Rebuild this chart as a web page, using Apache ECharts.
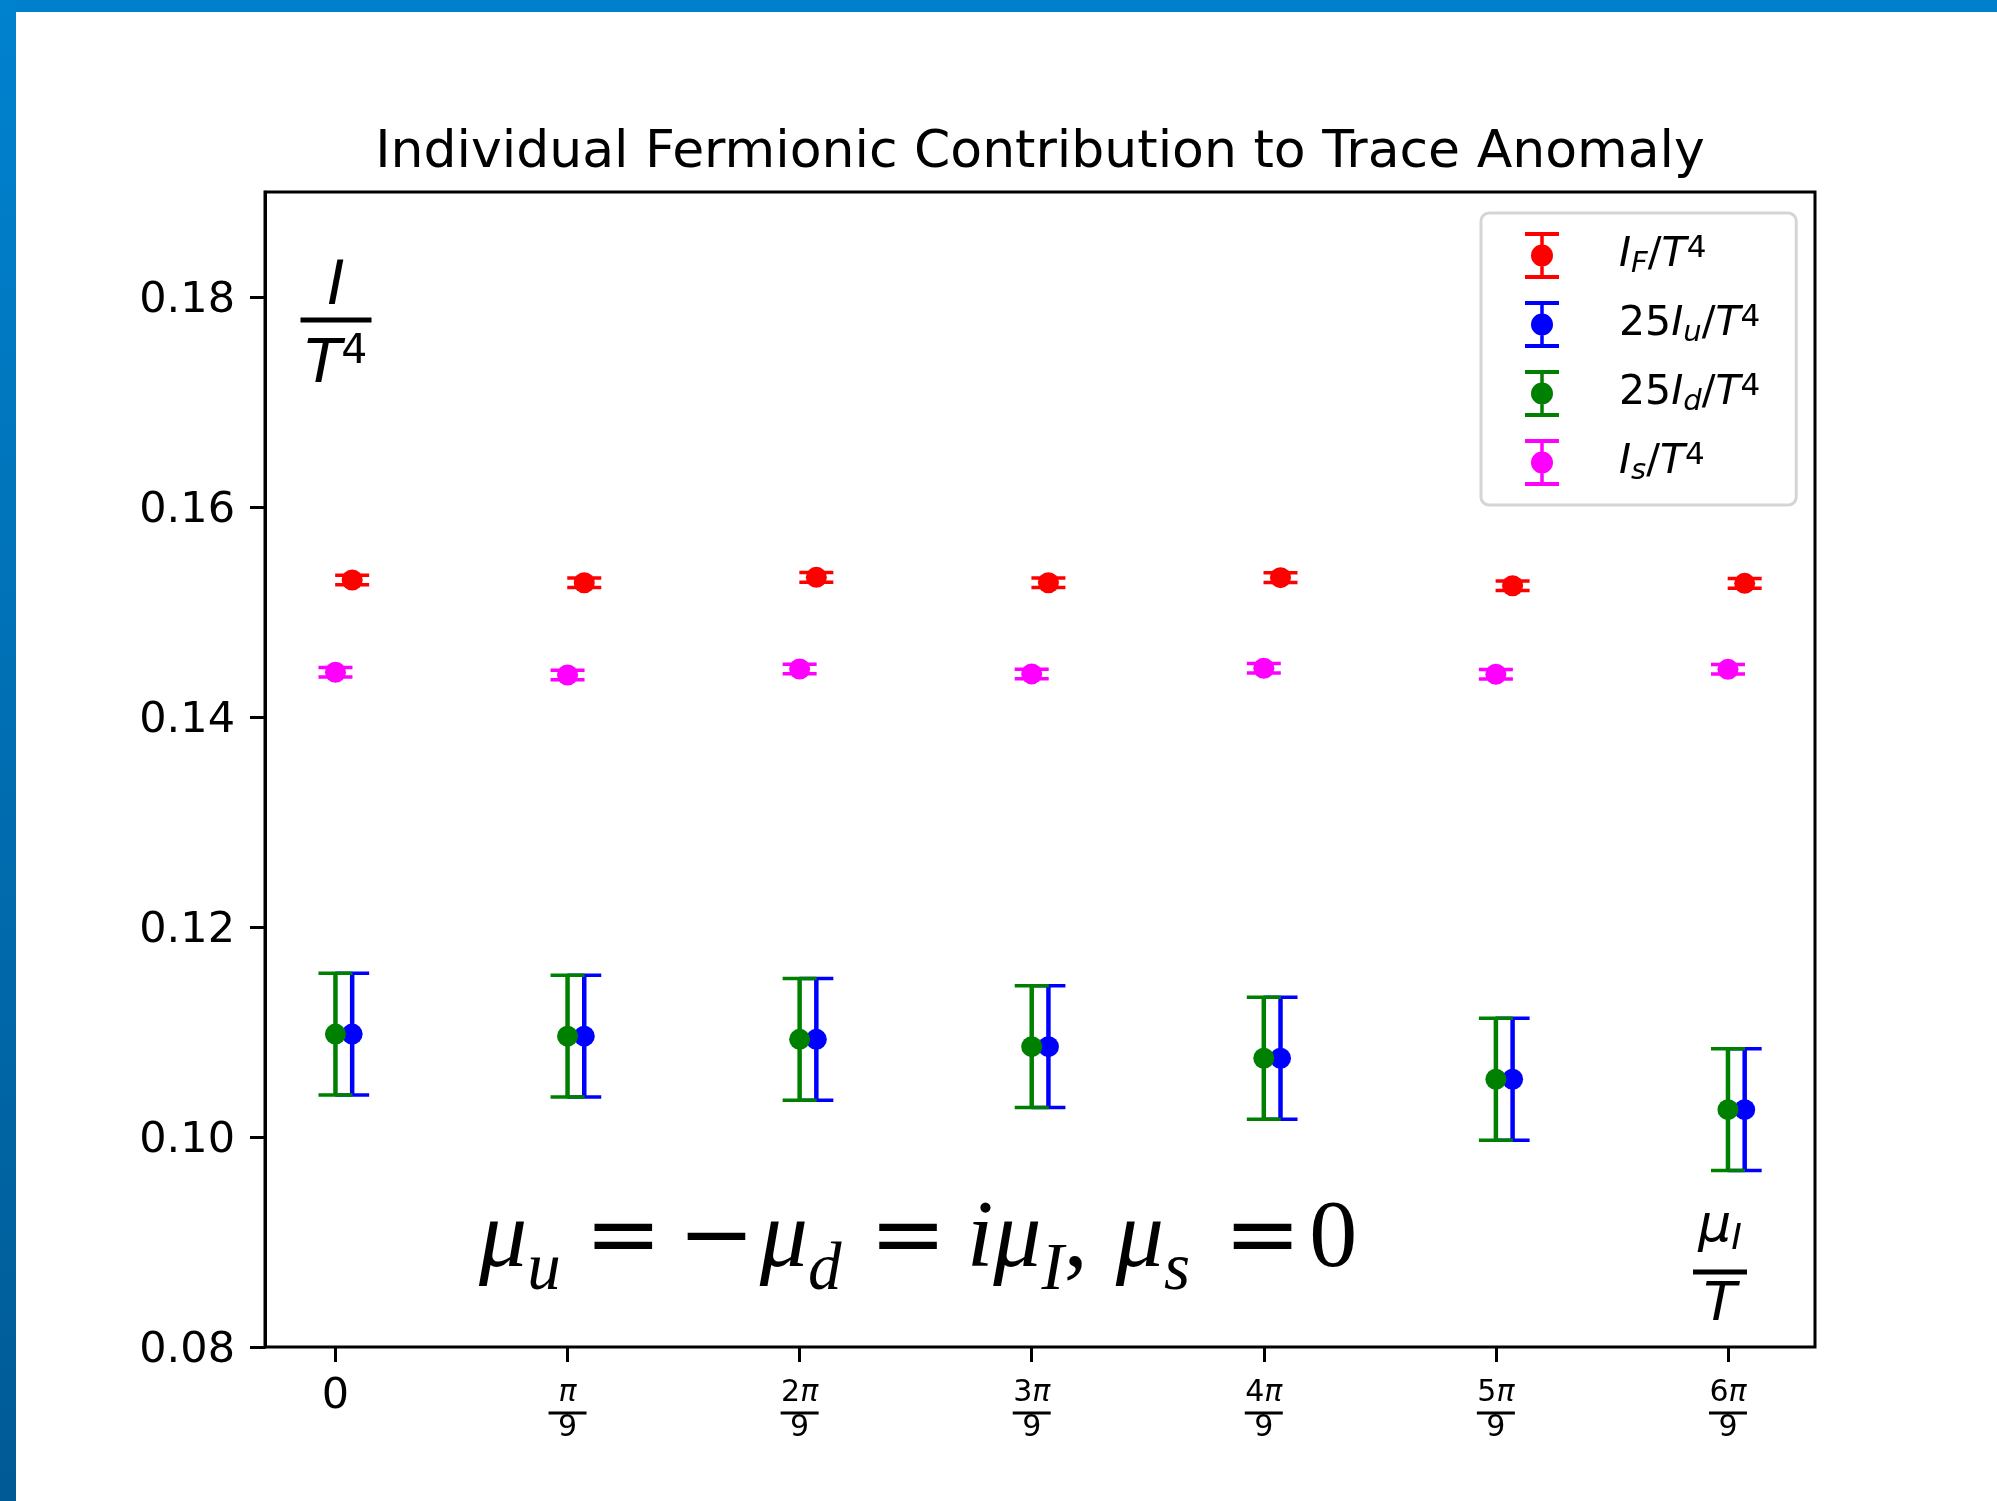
<!DOCTYPE html>
<html><head><meta charset="utf-8">
<style>html,body{margin:0;padding:0;background:#fff;}#chart{width:1997px;height:1501px;}</style>
<script src="https://cdn.jsdelivr.net/npm/echarts@6/dist/echarts.min.js"></script>
</head><body><div id="chart"></div>
<script>
// ---- data ----
const xIndex = [0, 1, 2, 3, 4, 5, 6];            // mu_I/T in units of pi/9
const xTickLabels = ['0', 'π/9', '2π/9', '3π/9', '4π/9', '5π/9', '6π/9'];
const xOffset = 0.072;                            // horizontal shift of IF and Iu points
const yTicks = [0.08, 0.10, 0.12, 0.14, 0.16, 0.18];
const IF = [0.15305, 0.15279, 0.15330, 0.15279, 0.15327, 0.15250, 0.15273];
const IF_err = [0.00046, 0.00046, 0.00046, 0.00046, 0.00046, 0.00046, 0.00046];
const Iu = [0.1098, 0.1096, 0.1093, 0.1086, 0.1075, 0.1055, 0.1026];
const Iu_err = [0.0058, 0.0058, 0.0058, 0.0058, 0.0058, 0.0058, 0.0058];
const Id = [0.1098, 0.1096, 0.1093, 0.1086, 0.1075, 0.1055, 0.1026];
const Id_err = [0.0058, 0.0058, 0.0058, 0.0058, 0.0058, 0.0058, 0.0058];
const Is = [0.14426, 0.14400, 0.14457, 0.14410, 0.14464, 0.14407, 0.14454];
const Is_err = [0.00045, 0.00045, 0.00045, 0.00045, 0.00045, 0.00045, 0.00045];
const seriesNames = ['I_F/T^4', '25I_u/T^4', '25I_d/T^4', 'I_s/T^4'];
const seriesColors = ['#ff0000', '#0000ff', '#008000', '#ff00ff'];

const F = 'DejaVu Sans';
const SERIF = 'Liberation Serif';
const SERIF2 = 'DejaVu Serif';

// x range of the plot (in units of pi/9)
const X_MIN = -0.3036, X_MAX = 6.375;
const Y_MIN = 0.08, Y_MAX = 0.19;
// plot box
const G_LEFT = 265, G_TOP = 192, G_W = 1550, G_H = 1155;
const TICK_LEN = 15;
// tick/label strip directly under the plot: spans x = 0 .. 6 of the value axis
const pxPerUnit = G_W / (X_MAX - X_MIN);
const G2_LEFT = G_LEFT + (0 - X_MIN) * pxPerUnit;
const G2_W = (xIndex[xIndex.length - 1] - xIndex[0]) * pxPerUnit;

function renderErr(params, api) {
  const x = api.value(0), lo = api.value(2), hi = api.value(3);
  const pl = api.coord([x, lo]), ph = api.coord([x, hi]);
  const c = api.visual('color');
  const hw = 17;
  return {type: 'group', children: [
    {type: 'line', shape: {x1: pl[0], y1: pl[1], x2: ph[0], y2: ph[1]}, style: {stroke: c, lineWidth: 4.5}},
    {type: 'line', shape: {x1: pl[0] - hw, y1: pl[1], x2: pl[0] + hw, y2: pl[1]}, style: {stroke: c, lineWidth: 3.5}},
    {type: 'line', shape: {x1: ph[0] - hw, y1: ph[1], x2: ph[0] + hw, y2: ph[1]}, style: {stroke: c, lineWidth: 3.5}}
  ]};
}

function makeSeries(name, color, ys, errs, dx) {
  const errData = xIndex.map((x, i) => [x + dx, ys[i], ys[i] - errs[i], ys[i] + errs[i]]);
  const ptData = xIndex.map((x, i) => [x + dx, ys[i]]);
  return [
    {type: 'custom', name: name, renderItem: renderErr, data: errData,
     encode: {x: 0, y: 1}, itemStyle: {color: color}, silent: true, clip: false},
    {type: 'scatter', name: name, data: ptData, symbol: 'circle', symbolSize: 21,
     itemStyle: {color: color, opacity: 1}, silent: true}
  ];
}

const series = [].concat(
  makeSeries(seriesNames[0], seriesColors[0], IF, IF_err, xOffset),
  makeSeries(seriesNames[1], seriesColors[1], Iu, Iu_err, xOffset),
  makeSeries(seriesNames[2], seriesColors[2], Id, Id_err, 0),
  makeSeries(seriesNames[3], seriesColors[3], Is, Is_err, 0)
);

const iconPath = 'path://M0 0H34V4H0Z M0 43H34V47H0Z M15.25 0H18.75V47H15.25Z M6 23.5A11 11 0 1 1 28 23.5A11 11 0 1 1 6 23.5Z';

const legendRich = {
  gap: {width: 55},
  n: {fontSize: 41, fontFamily: F, lineHeight: 44, color: '#000'},
  i: {fontSize: 41, fontFamily: F, fontStyle: 'italic', lineHeight: 44, color: '#000'},
  sb: {fontSize: 29, fontFamily: F, fontStyle: 'italic', lineHeight: 20, padding: [17, 0, 0, 0], color: '#000'},
  sp: {fontSize: 31, fontFamily: F, lineHeight: 20, padding: [0, 0, 14, 0], color: '#000'}
};
const legendText = {
  'I_F/T^4': '{gap|}{i|I}{sb|F}{n|/}{i|T}{sp|4}',
  '25I_u/T^4': '{gap|}{n|25}{i|I}{sb|u}{n|/}{i|T}{sp|4}',
  '25I_d/T^4': '{gap|}{n|25}{i|I}{sb|d}{n|/}{i|T}{sp|4}',
  'I_s/T^4': '{gap|}{i|I}{sb|s}{n|/}{i|T}{sp|4}'
};

// x tick label: the value as a stacked fraction of pi
function xLabel(value) {
  const lab = xTickLabels[Math.round(value)];
  if (lab === undefined) return '';
  if (lab === '0') return '{z|0}';
  const num = lab.split('/')[0];
  const digits = num.replace('π', '');
  return (digits ? '{nd|' + digits + '}' : '') + '{np|π}\n{bar|}\n{dd|9}';
}

const chart = echarts.init(document.getElementById('chart'), null, {renderer: 'canvas'});
chart.setOption({
  animation: false,
  backgroundColor: '#ffffff',
  textStyle: {fontFamily: F},
  grid: [
    {left: G_LEFT, top: G_TOP, width: G_W, height: G_H, show: true,
     borderColor: '#000', borderWidth: 3, backgroundColor: 'transparent'},
    {left: G2_LEFT, top: G_TOP + G_H - 1, width: G2_W, height: 1, show: false}
  ],
  xAxis: [
    {type: 'value', gridIndex: 0, min: X_MIN, max: X_MAX,
     axisLine: {show: false, onZero: false}, splitLine: {show: false},
     axisTick: {show: false}, axisLabel: {show: false}},
    {type: 'value', gridIndex: 1, min: xIndex[0], max: xIndex[xIndex.length - 1], interval: 1,
     position: 'bottom',
     axisLine: {show: false, onZero: false},
     splitLine: {show: false},
     axisTick: {show: true, length: TICK_LEN, lineStyle: {color: '#000', width: 3}},
     axisLabel: {
       margin: 34, color: '#000', formatter: xLabel, showMinLabel: true, showMaxLabel: true,
       rich: {
         z: {fontSize: 43, fontFamily: F, lineHeight: 32, color: '#000'},
         nd: {fontSize: 30, fontFamily: F, lineHeight: 24, color: '#000'},
         np: {fontSize: 30, fontFamily: F, fontStyle: 'italic', lineHeight: 24, color: '#000'},
         bar: {width: 38, height: 3, backgroundColor: '#000', lineHeight: 16},
         dd: {fontSize: 30, fontFamily: F, lineHeight: 14, color: '#000'}
       }
     }}
  ],
  yAxis: [
    {type: 'value', gridIndex: 0, min: Y_MIN, max: Y_MAX,
     axisLine: {show: true, onZero: false, lineStyle: {color: '#000', width: 3}},
     splitLine: {show: false},
     axisTick: {show: true, customValues: yTicks, length: TICK_LEN, lineStyle: {color: '#000', width: 3}},
     axisLabel: {customValues: yTicks, margin: 30, color: '#000',
                 formatter: v => '{v|' + v.toFixed(2) + '}',
                 rich: {v: {fontSize: 43, fontFamily: F, color: '#000', lineHeight: 44, padding: [8, 0, 0, 0]}}}},
    {type: 'value', gridIndex: 1, min: 0, max: 1, show: false}
  ],
  legend: {
    orient: 'vertical', left: 1481, top: 213,
    padding: [19, 36, 19, 44], itemGap: 22, itemWidth: 34, itemHeight: 47,
    backgroundColor: 'rgba(255,255,255,0.8)', borderColor: '#d5d5d5', borderWidth: 3, borderRadius: 8,
    itemStyle: {borderWidth: 0},
    selectedMode: false,
    data: seriesNames.map(n => ({name: n, icon: iconPath})),
    formatter: n => legendText[n],
    textStyle: {rich: legendRich, fontSize: 41, fontFamily: F, color: '#000'}
  },
  graphic: [
    {type: 'text', x: 1040, y: 153, z: 50, style: {
      text: 'Individual Fermionic Contribution to Trace Anomaly',
      fontSize: 52, fontFamily: F, fill: '#000', align: 'center', verticalAlign: 'middle'}},
    {type: 'text', x: 336, y: 243, z: 50, style: {
      text: '{ni|I}\n{br|}\n{dt|T}{ds|4}', align: 'center', verticalAlign: 'top', fill: '#000',
      rich: {
        ni: {fontSize: 60, fontFamily: F, fontStyle: 'italic', lineHeight: 72, padding: [18, 0, 0, 0], fill: '#000'},
        br: {width: 71, height: 5, backgroundColor: '#000', lineHeight: 10},
        dt: {fontSize: 60, fontFamily: F, fontStyle: 'italic', lineHeight: 70, padding: [12, 0, 0, 0], fill: '#000'},
        ds: {fontSize: 41, fontFamily: F, lineHeight: 20, padding: [0, 0, 16, 0], fill: '#000'}
      }}},
    {type: 'text', x: 1720, y: 1185, z: 50, style: {
      text: '{m|μ}{s|I}\n{br|}\n{t|T}', align: 'center', verticalAlign: 'top', fill: '#000',
      rich: {
        m: {fontSize: 52, fontFamily: F, fontStyle: 'italic', lineHeight: 84, fill: '#000'},
        s: {fontSize: 36, fontFamily: F, fontStyle: 'italic', lineHeight: 20, padding: [25, 0, 0, 0], fill: '#000'},
        br: {width: 54, height: 5, backgroundColor: '#000', lineHeight: 6},
        t: {fontSize: 54, fontFamily: F, fontStyle: 'italic', lineHeight: 57, padding: [4, 0, 0, 0], fill: '#000'}
      }}},
    {type: 'text', x: 479, y: 1241, z: 50, style: {
      text: '{m|μ}{s|u}{g1|}{e|=}{g2|}{e|−}{g3|}{m|μ}{s|d}{g4|}{e|=}{g5|}{m|iμ}{s|I}{o|,}{g6|}{m|μ}{s|s}{g7|}{e|=}{g8|}{o|0}',
      align: 'left', verticalAlign: 'middle', fill: '#000',
      rich: {
        m: {fontSize: 96, fontFamily: SERIF, fontStyle: 'italic', lineHeight: 100, fill: '#000'},
        o: {fontSize: 96, fontFamily: SERIF, lineHeight: 100, fill: '#000'},
        e: {fontSize: 92, fontFamily: SERIF2, lineHeight: 100, fill: '#000'},
        s: {fontSize: 67, fontFamily: SERIF, fontStyle: 'italic', lineHeight: 20, padding: [61, 0, 0, 0], fill: '#000'},
        g1: {width: 24}, g2: {width: 16}, g3: {width: 5}, g4: {width: 28},
        g5: {width: 20}, g6: {width: 28}, g7: {width: 34}, g8: {width: 8}
      }}},
    {type: 'rect', z: 100, shape: {x: 0, y: 0, width: 1997, height: 12}, style: {fill: '#0080cc'}},
    {type: 'rect', z: 100, shape: {x: 0, y: 0, width: 16, height: 1501}, style: {
      fill: new echarts.graphic.LinearGradient(0, 0, 0, 1, [
        {offset: 0, color: '#0082cf'}, {offset: 1, color: '#005a95'}])}}
  ],
  series: series
});
</script>
</body></html>
